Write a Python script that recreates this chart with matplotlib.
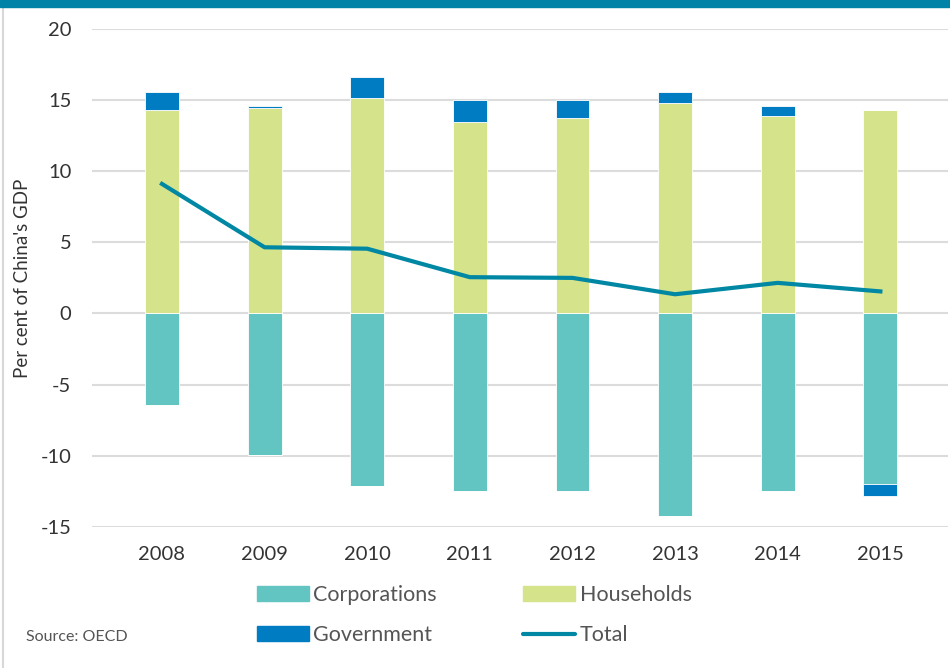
import numpy as np
import matplotlib.pyplot as plt
from matplotlib.patches import Patch, Rectangle
from matplotlib.lines import Line2D

plt.rcParams['font.family'] = ['Lato', 'DejaVu Sans']
plt.rcParams['axes.unicode_minus'] = False

years = ['2008', '2009', '2010', '2011', '2012', '2013', '2014', '2015']
corporations = [-6.45, -9.95, -12.1, -12.45, -12.5, -14.25, -12.45, -11.95]
households = [14.3, 14.45, 15.15, 13.45, 13.7, 14.8, 13.85, 14.3]
government = [1.25, 0.15, 1.45, 1.55, 1.3, 0.75, 0.75, -0.85]
total = [9.1, 4.65, 4.55, 2.55, 2.5, 1.35, 2.15, 1.55]

c_corp = '#62c5c1'
c_house = '#d5e38a'
c_gov = '#007cc2'
c_total = '#0087a3'
c_text = '#555555'

fig = plt.figure(figsize=(9.5, 6.68), dpi=100)
ax = fig.add_axes([0.097, 0.211, 0.901, 0.746])

x = np.arange(len(years))
w = 0.33
gov_pos = [g if g > 0 else 0 for g in government]
gov_neg = [g if g < 0 else 0 for g in government]

ax.bar(x, corporations, w, color=c_corp, edgecolor='white', linewidth=0.6, zorder=2)
ax.bar(x, households, w, color=c_house, edgecolor='white', linewidth=0.6, zorder=2)
ax.bar(x, gov_pos, w, bottom=households, color=c_gov, edgecolor='white', linewidth=0.6, zorder=2)
ax.bar(x, gov_neg, w, bottom=corporations, color=c_gov, edgecolor='white', linewidth=0.6, zorder=2)
ax.plot(x, total, color=c_total, linewidth=3, zorder=3)

ax.set_ylim(-15, 20)
ax.set_xlim(-0.68, 7.66)
ax.set_yticks(np.arange(-15, 21, 5))
ax.set_xticks(x)
ax.set_xticklabels(years)
ax.grid(axis='y', color='#dcdcdc', linewidth=1.5, zorder=0)
ax.set_axisbelow(True)
for s in ax.spines.values():
    s.set_visible(False)
ax.tick_params(length=0, labelsize=14.5, labelcolor='#333333', pad=14)
ax.tick_params(axis='y', pad=15)
ax.set_ylabel("Per cent of China's GDP", fontsize=13.5, color='#333333')
ax.yaxis.set_label_coords(-0.071, 0.5)

handles = [Patch(color=c_corp), Patch(color=c_gov),
           Patch(color=c_house),
           Line2D([0], [0], color=c_total, linewidth=3, solid_capstyle='round')]
labels = ['Corporations', 'Government', 'Households', 'Total']
fig.legend(handles, labels, ncol=2, loc='center left', bbox_to_anchor=(0.25, 0.079),
           frameon=False, fontsize=15.5, labelcolor=c_text, handlelength=2.4,
           handleheight=0.7, handletextpad=0.23, columnspacing=4.0, labelspacing=0.92)

fig.text(0.027, 0.046, 'Source: OECD', fontsize=11.5, color=c_text, va='center')

fig.patches.append(Rectangle((0, 1 - 7 / 668), 1, 7 / 668, transform=fig.transFigure,
                             color='#0083a6', zorder=10))
fig.add_artist(Line2D([0.003, 0.003], [0, 1 - 7 / 668], transform=fig.transFigure,
                      color='#d8d8d8', linewidth=1.5))

fig.savefig('out.png', dpi=100)
